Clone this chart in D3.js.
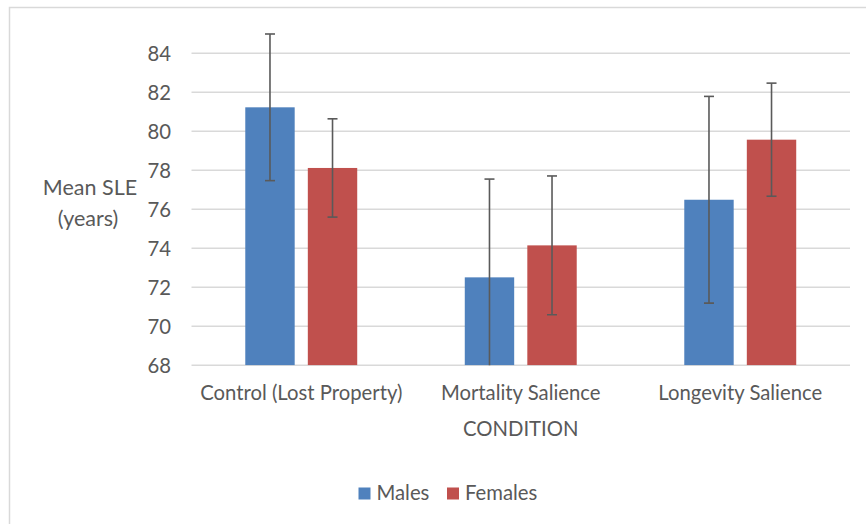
<!DOCTYPE html>
<html><head><meta charset="utf-8">
<script src="https://cdn.jsdelivr.net/npm/d3@7"></script>
<style>
html,body{margin:0;padding:0;background:#fff;}
svg{display:block;font-family:Lato,"Open Sans",sans-serif;}
</style></head>
<body>
<svg id="chart" width="866" height="524"></svg>
<script>
const categories = ["Control (Lost Property)", "Mortality Salience", "Longevity Salience"];
const seriesNames = ["Males", "Females"];
const males = [81.23, 72.51, 76.49];
const malesErr = [3.76, 5.04, 5.30];
const females = [78.12, 74.15, 79.57];
const femalesErr = [2.52, 3.56, 2.90];
const yTicks = [68, 70, 72, 74, 76, 78, 80, 82, 84];
const colors = ["#4F81BD", "#C0504D"];

const svg = d3.select("#chart");
const textColor = "#595959";
const fs = 20.3;

// chart frame
svg.append("path").attr("d", "M9.5,524 V7.5 H866")
  .attr("fill", "none").attr("stroke", "#d9d9d9").attr("stroke-width", 1.5);

const plot = {left: 191.5, right: 850};
const y = d3.scaleLinear().domain([68, 84]).range([365.3, 53.3]);
const x0 = d3.scaleBand().domain(categories).range([plot.left, plot.right]).paddingInner(0.49).paddingOuter(0.245);
const x1 = d3.scaleBand().domain(seriesNames).range([0, x0.bandwidth()]).paddingInner(0.21);

// gridlines
svg.append("g").selectAll("line").data(yTicks).join("line")
  .attr("x1", plot.left).attr("x2", plot.right)
  .attr("y1", d => y(d)).attr("y2", d => y(d))
  .attr("stroke", "#d9d9d9").attr("stroke-width", 1.5);

// y axis labels
const yAxis = d3.axisLeft(y).tickValues(yTicks).tickSize(0).tickPadding(0).tickFormat(d3.format("d"));
const ya = svg.append("g").attr("transform", `translate(171,0)`).call(yAxis);
ya.select(".domain").remove();
ya.selectAll("text").attr("fill", textColor).style("font-size", fs + "px").style("font-family", "Lato").attr("dy", "0.36em");

// clip
svg.append("clipPath").attr("id", "clip").append("rect")
  .attr("x", plot.left).attr("y", 0).attr("width", plot.right - plot.left).attr("height", y(68));

const data = categories.map((c, i) => ({cat: c, vals: [
  {s: "Males", v: males[i], e: malesErr[i]},
  {s: "Females", v: females[i], e: femalesErr[i]}
]}));

const groups = svg.append("g").attr("clip-path", "url(#clip)").selectAll("g").data(data).join("g")
  .attr("transform", d => `translate(${x0(d.cat)},0)`);

groups.selectAll("rect").data(d => d.vals).join("rect")
  .attr("x", d => x1(d.s)).attr("width", x1.bandwidth())
  .attr("y", d => y(d.v)).attr("height", d => y(68) - y(d.v))
  .attr("fill", (d, i) => colors[i]);

// error bars
const eb = groups.selectAll("g.err").data(d => d.vals).join("g").attr("class", "err")
  .attr("stroke", "#5a5a5a").attr("stroke-width", 1.6);
eb.append("line")
  .attr("x1", d => x1(d.s) + x1.bandwidth() / 2).attr("x2", d => x1(d.s) + x1.bandwidth() / 2)
  .attr("y1", d => y(d.v + d.e)).attr("y2", d => y(d.v - d.e));
eb.append("line")
  .attr("x1", d => x1(d.s) + x1.bandwidth() / 2 - 5).attr("x2", d => x1(d.s) + x1.bandwidth() / 2 + 5)
  .attr("y1", d => y(d.v + d.e)).attr("y2", d => y(d.v + d.e));
eb.append("line")
  .attr("x1", d => x1(d.s) + x1.bandwidth() / 2 - 5).attr("x2", d => x1(d.s) + x1.bandwidth() / 2 + 5)
  .attr("y1", d => y(d.v - d.e)).attr("y2", d => y(d.v - d.e));

// x axis labels
const xAxis = d3.axisBottom(x0).tickSize(0).tickPadding(0);
const xa = svg.append("g").attr("transform", `translate(0,400)`).call(xAxis);
xa.select(".domain").remove();
xa.selectAll("text").attr("fill", textColor).attr("dy", 0).attr("y", 0)
  .style("font-size", fs + "px").style("font-family", "Lato");

// axis titles
svg.append("text").attr("x", (plot.left + plot.right) / 2).attr("y", 436)
  .attr("text-anchor", "middle").attr("fill", textColor).style("font-size", fs + "px").text("CONDITION");
const yt = svg.append("text").attr("text-anchor", "middle").attr("fill", textColor).style("font-size", "21.5px");
yt.append("tspan").attr("x", 90).attr("y", 195).text("Mean SLE");
yt.append("tspan").attr("x", 88).attr("y", 226).text("(years)");

// legend
const legend = svg.append("g");
const lx = [358.5, 447];
seriesNames.forEach((s, i) => {
  legend.append("rect").attr("x", lx[i]).attr("y", 487.5).attr("width", 12).attr("height", 12).attr("fill", colors[i]);
  legend.append("text").attr("x", lx[i] + 18).attr("y", 499.5).attr("fill", textColor)
    .style("font-size", fs + "px").text(s);
});
</script>
</body></html>
